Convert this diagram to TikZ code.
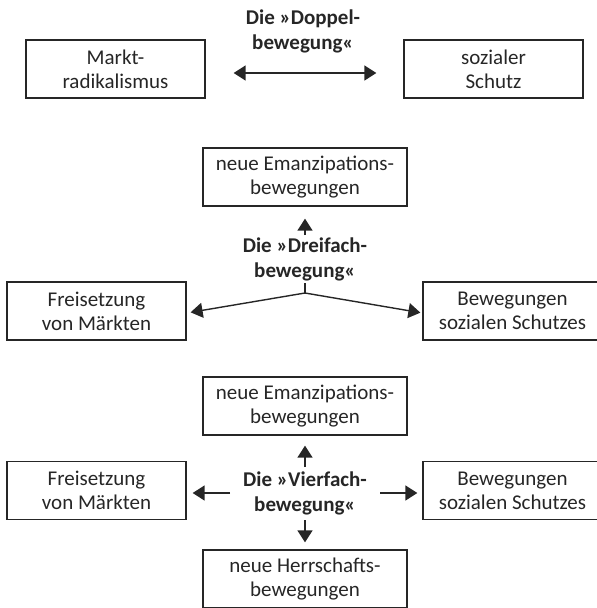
\documentclass[tikz,border=0pt]{standalone}
\usepackage{fontspec}
\setmainfont{Carlito}
\usepackage{xcolor}
\usepackage{tikz}
\usetikzlibrary{arrows.meta}
\definecolor{ink}{HTML}{262626}

\begin{document}
\begin{tikzpicture}[x=1pt,y=-1pt,font=\fontsize{21}{24}\selectfont,color=ink,
  box/.style={draw=ink,line width=1.3pt,minimum width=179pt,minimum height=58pt,inner sep=0pt,align=center},
  widebox/.style={box,minimum width=204pt},
  movetitle/.style={font=\fontsize{21}{25}\selectfont\bfseries,align=center,inner sep=0pt},
  tip/.style={line width=1.4pt,-{Triangle[length=12pt,width=15pt]}}]
\useasboundingbox (0,0) rectangle (597,608);
\node[box] (markt) at (115.5,69) {Markt-\\radikalismus};
\node[box] (schutz) at (493.5,69) {sozialer\\Schutz};
\node[movetitle] (doppel) at (303,31) {Die »Doppel-\\bewegung«};
\draw [tip,{Triangle[length=12pt,width=15pt]}-{Triangle[length=12pt,width=15pt]},shorten <=28pt,shorten >=27pt] ([yshift=-4pt]markt.east) -- ([yshift=-4pt]schutz.west);
\node[widebox] (emanzA) at (305,177) {neue Emanzipations-\\bewegungen};
\node[movetitle] (dreifach) at (305,259) {Die »Dreifach-\\bewegung«};
\node[box] (freiA) at (96.5,311) {Freisetzung\\von Märkten};
\node[box] (bewA) at (512.5,311) {Bewegungen\\sozialen Schutzes};
\coordinate (drTop) at (305,235);
\coordinate (drStub) at (305,283);
\coordinate (drFork) at (305,293);
\draw [tip,shorten >=12pt] (drTop) -- (emanzA.south);
\draw [line width=1.4pt] (drStub) -- (drFork);
\draw [tip,shorten >=4pt] (drFork) -- ([yshift=-2pt]freiA.east);
\draw [tip,shorten >=2pt] (drFork) -- ([yshift=-2pt]bewA.west);
\node[widebox] (emanzB) at (305,406) {neue Emanzipations-\\bewegungen};
\node[movetitle] (vierfach) at (305,493) {Die »Vierfach-\\bewegung«};
\node[box] (freiB) at (96.5,490.5) {Freisetzung\\von Märkten};
\node[box] (bewB) at (512.5,490.5) {Bewegungen\\sozialen Schutzes};
\node[widebox] (herr) at (305,579) {neue Herrschafts-\\bewegungen};
\coordinate (viUp) at (305,467);
\coordinate (viDown) at (305,520);
\coordinate (viLeft) at (230,493);
\coordinate (viRight) at (380,493);
\draw [tip,shorten >=10pt] (viUp) -- (emanzB.south);
\draw [tip,shorten >=7pt] (viDown) -- (herr.north);
\draw [tip,shorten >=6pt] (viLeft) -- (freiB.east |- viLeft);
\draw [tip,shorten >=5pt] (viRight) -- (bewB.west |- viRight);
\end{tikzpicture}
\end{document}
